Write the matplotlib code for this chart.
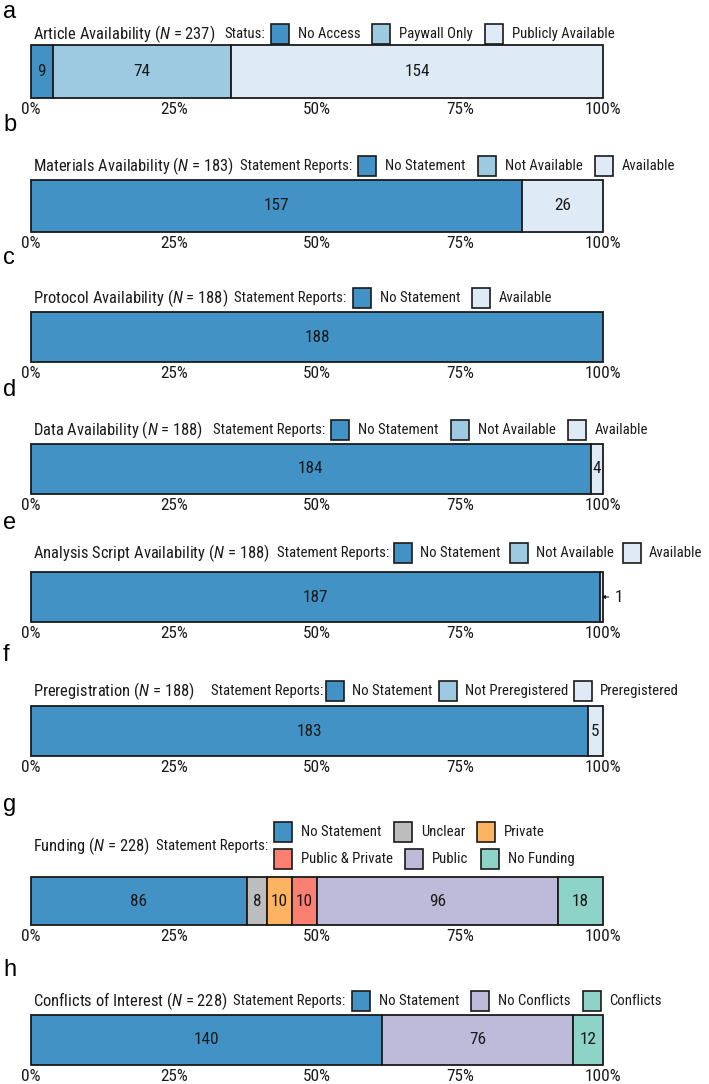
import matplotlib
matplotlib.use('Agg')
import matplotlib.pyplot as plt
from matplotlib import font_manager
from matplotlib.patches import Rectangle

installed = set(f.name for f in font_manager.fontManager.ttflist)
main_font = 'DejaVu Sans'
for cand in ['Roboto Condensed', 'Liberation Sans Narrow', 'Open Sans Condensed',
             'Noto Sans Condensed', 'Roboto', 'Liberation Sans']:
    if cand in installed:
        main_font = cand
        break
letter_font = 'Liberation Sans' if 'Liberation Sans' in installed else main_font

plt.rcParams['font.family'] = [main_font, 'DejaVu Sans']
plt.rcParams['mathtext.fontset'] = 'custom'
plt.rcParams['mathtext.rm'] = main_font
plt.rcParams['mathtext.it'] = main_font + ':italic'

# data
letters = ['a', 'b', 'c', 'd', 'e', 'f', 'g', 'h']
titles = ['Article Availability', 'Materials Availability', 'Protocol Availability',
          'Data Availability', 'Analysis Script Availability', 'Preregistration',
          'Funding', 'Conflicts of Interest']
n_totals = [237, 183, 188, 188, 188, 188, 228, 228]
prefixes = ['Status:'] + ['Statement Reports:'] * 7
categories = [
    ['No Access', 'Paywall Only', 'Publicly Available'],
    ['No Statement', 'Not Available', 'Available'],
    ['No Statement', 'Available'],
    ['No Statement', 'Not Available', 'Available'],
    ['No Statement', 'Not Available', 'Available'],
    ['No Statement', 'Not Preregistered', 'Preregistered'],
    ['No Statement', 'Unclear', 'Private', 'Public & Private', 'Public', 'No Funding'],
    ['No Statement', 'No Conflicts', 'Conflicts'],
]
counts = [
    [9, 74, 154],
    [157, 0, 26],
    [188, 0],
    [184, 0, 4],
    [187, 0, 1],
    [183, 0, 5],
    [86, 8, 10, 10, 96, 18],
    [140, 76, 12],
]
tick_vals = [0, 0.25, 0.5, 0.75, 1.0]
tick_labels = ['0%', '25%', '50%', '75%', '100%']

cat_colors = {
    'No Access': '#4292c6', 'No Statement': '#4292c6',
    'Paywall Only': '#9ecae1', 'Not Available': '#9ecae1', 'Not Preregistered': '#9ecae1',
    'Publicly Available': '#deebf7', 'Available': '#deebf7', 'Preregistered': '#deebf7',
    'Unclear': '#bdbdbd', 'Private': '#fdb462', 'Public & Private': '#fb8072',
    'Public': '#bebada', 'No Funding': '#8dd3c7',
    'No Conflicts': '#bebada', 'Conflicts': '#8dd3c7',
}

# layout (pixels)
W, H = 709, 1084
letter_y = [12, 125, 258, 390, 523, 655, 805, 970]
title_y = [34, 166, 298, 430, 553, 691, 846, 1001]
bar_top = [45, 180, 312, 444, 572, 706, 877, 1015]
bar_bot = [98, 232, 362, 494, 622, 756, 925, 1065]
prefix_x = [224, 240, 231, 213, 277, 211, 156, 233]
leg_rows = [[34], [166], [298], [430], [553], [691], [832, 859], [1001]]
# gaps: prefix->box, box->text, text->next box
leg_gaps = [(6, 9, 12), (6, 9, 12), (6, 9, 12), (6, 9, 12), (5, 8, 9),
            (3, 8, 6), (6, 9, 12), (6, 9, 12)]
bar_left, bar_w = 31, 572
EDGE = '#1a1a1a'


def fx(px):
    return px / W


def fy(py):
    return 1 - py / H


fig = plt.figure(figsize=(W / 100, H / 100), dpi=100)
r = fig.canvas.get_renderer()


def fit_size(s, target):
    probe = fig.text(0, 0, s, fontsize=10)
    wpx = probe.get_window_extent(renderer=r).width
    probe.remove()
    return 10 * target / wpx


# font sizes matched to text widths in the reference
FT = fit_size(titles[0] + ' ($N$ = %d)' % n_totals[0], 182)
FS = fit_size('Statement Reports:', 111)
FK = fit_size('100%', 36)


def text_px(x, y, s, size=None, **kw):
    t = fig.text(fx(x), fy(y), s, va='center', ha='left', fontsize=size or FS,
                 color='#1a1a1a', **kw)
    return t, t.get_window_extent(renderer=r).x1


for i in range(len(letters)):
    cats = categories[i]
    vals = counts[i]
    total = sum(vals)

    fig.text(fx(3), fy(letter_y[i]), letters[i], fontsize=17, va='center', ha='left',
             family=letter_font)
    _, te = text_px(33, title_y[i], titles[i] + ' ($N$ = %d)' % n_totals[i], size=FT)
    _, x = text_px(max(prefix_x[i], te + 6), title_y[i], prefixes[i])

    # legend
    g1, g2, g3 = leg_gaps[i]
    rows = leg_rows[i]
    per_row = len(cats) // len(rows)
    start = x + g1
    k = 0
    for ry in rows:
        xx = start
        for c in cats[k:k + per_row]:
            fig.patches.append(Rectangle((fx(xx), fy(ry + 10)), 18 / W, 20 / H,
                                         transform=fig.transFigure, facecolor=cat_colors[c],
                                         edgecolor=EDGE, linewidth=1.2))
            _, xe = text_px(xx + 18 + g2, ry, c)
            xx = xe + g3
        k += per_row

    # bar
    ax = fig.add_axes([fx(bar_left), fy(bar_bot[i]), bar_w / W, (bar_bot[i] - bar_top[i]) / H])
    left = 0
    for c, v in zip(cats, vals):
        w = v / total
        if v > 0:
            ax.barh(0, w, left=left, height=1, color=cat_colors[c], edgecolor=EDGE,
                    linewidth=1.3, clip_on=False)
            if w * bar_w >= 8:
                ax.text(left + w / 2, 0, str(v), ha='center', va='center', fontsize=FK,
                        color='#1a1a1a')
            else:
                ax.annotate(str(v), xy=(left + w / 2, 0), xytext=(1.027, 0),
                            ha='center', va='center', fontsize=FK, color='#1a1a1a',
                            annotation_clip=False,
                            arrowprops=dict(arrowstyle='-|>', lw=0.8, color='#1a1a1a',
                                            mutation_scale=5, shrinkA=2, shrinkB=0))
        left += w
    ax.set_xlim(0, 1)
    ax.set_ylim(-0.5, 0.5)
    for s in ax.spines.values():
        s.set_visible(False)
    ax.set_yticks([])
    ax.set_xticks(tick_vals)
    ax.set_xticklabels(tick_labels, fontsize=FK, color='#1a1a1a')
    ax.tick_params(axis='x', length=0, pad=3)

fig.savefig('out.png', dpi=100)
